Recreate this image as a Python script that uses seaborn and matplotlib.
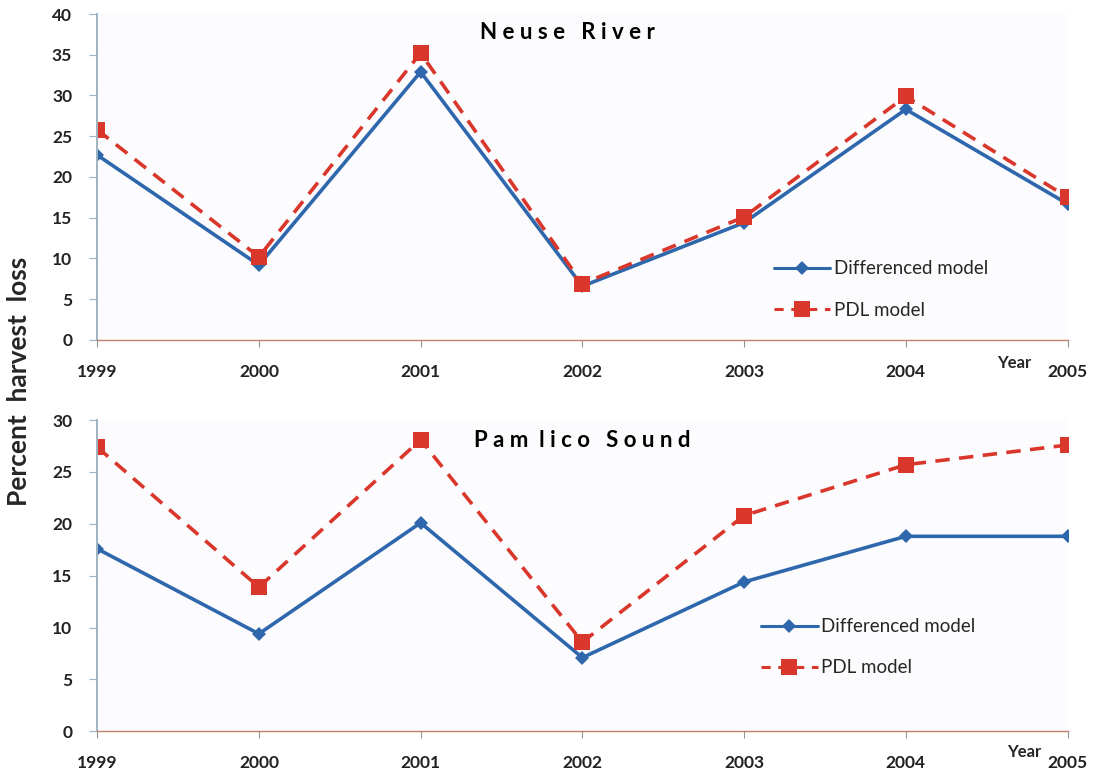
import numpy as np
import pandas as pd
import seaborn as sns
import matplotlib.pyplot as plt

# values
years = [1999, 2000, 2001, 2002, 2003, 2004, 2005]
neuse_diff = [22.7, 9.2, 32.9, 6.6, 14.4, 28.3, 16.7]
neuse_pdl = [25.8, 10.2, 35.2, 6.9, 15.1, 29.9, 17.5]
pamlico_diff = [17.6, 9.4, 20.1, 7.1, 14.4, 18.8, 18.8]
pamlico_pdl = [27.4, 13.9, 28.1, 8.6, 20.8, 25.7, 27.6]

series_names = ['Differenced model', 'PDL model']
blue = '#2f67ad'
red = '#d9372b'

sns.set_style('white')
plt.rcParams['font.family'] = ['Lato', 'DejaVu Sans']

fig = plt.figure(figsize=(11.04, 7.78), dpi=100)
fig.patch.set_facecolor('white')
ax1 = fig.add_axes([0.088, 0.563, 0.879, 0.419])
ax2 = fig.add_axes([0.088, 0.060, 0.879, 0.400])


def make_frame(diff, pdl):
    return pd.DataFrame({
        'year': years * 2,
        'value': diff + pdl,
        'model': [series_names[0]] * len(years) + [series_names[1]] * len(years),
    })


def draw_panel(ax, df, ymax, title, title_xy, leg_anchor, year_xy):
    ax.set_facecolor('#fcfcfe')
    sns.lineplot(data=df, x='year', y='value', hue='model', style='model',
                 palette={series_names[0]: blue, series_names[1]: red},
                 markers={series_names[0]: 'D', series_names[1]: 's'},
                 dashes={series_names[0]: '', series_names[1]: (4, 2.6)},
                 linewidth=2.6, ax=ax, legend=False)
    # marker sizes differ per series
    for line, ms in zip(ax.get_lines(), [7, 11]):
        line.set_markersize(ms)
        line.set_markeredgewidth(0)

    ax.set_xlim(years[0], years[-1])
    ax.set_ylim(0, ymax)
    ax.set_xticks(years)
    ax.set_yticks(np.arange(0, ymax + 1, 5))
    ax.set_xlabel('')
    ax.set_ylabel('')
    for s in ['top', 'right']:
        ax.spines[s].set_visible(False)
    ax.spines['left'].set_color('#9fb3c0')
    ax.spines['left'].set_linewidth(1.4)
    ax.spines['bottom'].set_color('#c08070')
    ax.spines['bottom'].set_linewidth(1.0)
    ax.tick_params(axis='y', direction='out', length=6, color='#9fb3c0',
                   labelsize=12.5, labelcolor='#222222', pad=12, left=True)
    ax.tick_params(axis='x', direction='out', length=5, color='#8a9a8a',
                   labelsize=12.5, labelcolor='#222222', pad=12, bottom=True)
    for lbl in ax.get_xticklabels() + ax.get_yticklabels():
        lbl.set_fontweight('bold')

    ax.text(title_xy[0], title_xy[1], title, transform=ax.transAxes,
            ha='center', va='center', fontsize=16, fontweight='bold',
            color='black')
    ax.text(year_xy[0], year_xy[1], 'Year', transform=ax.transAxes,
            ha='center', va='center', fontsize=12, fontweight='bold')

    handles = [
        plt.Line2D([], [], color=blue, lw=2.2, marker='D', ms=7,
                   markeredgewidth=0),
        plt.Line2D([], [], color=red, lw=2.2, marker='s', ms=11,
                   markeredgewidth=0, dashes=(3, 2.5)),
    ]
    ax.legend(handles, series_names, loc='center left',
              bbox_to_anchor=leg_anchor, frameon=False, fontsize=13.5,
              handlelength=3.0, labelspacing=1.3, handletextpad=0.2)


draw_panel(ax1, make_frame(neuse_diff, neuse_pdl), 40,
           'N e u s e   R i v e r', (0.485, 0.942), (0.68, 0.155),
           (0.945, -0.07))
draw_panel(ax2, make_frame(pamlico_diff, pamlico_pdl), 30,
           'P a m  l i c o   S o u n d', (0.5, 0.935), (0.667, 0.27),
           (0.955, -0.065))

fig.text(0.017, 0.51, 'Percent  harvest  loss', rotation=90, ha='center',
         va='center', fontsize=19, fontweight='bold')

fig.savefig('out.png', dpi=100)
